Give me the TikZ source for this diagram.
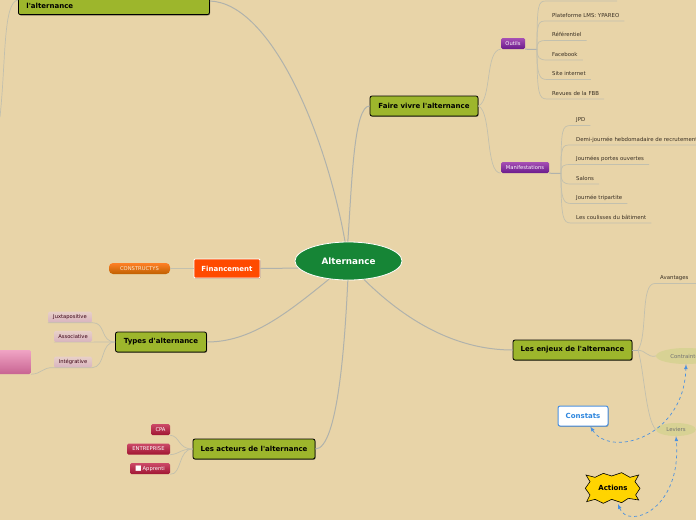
\documentclass[tikz,border=0pt]{standalone}
\usepackage{fontspec}
\setmainfont{DejaVu Sans}
\usetikzlibrary{arrows,positioning,shadows,shapes.geometric}
\definecolor{Paper}{HTML}{E8D4A8}
\definecolor{Olive}{HTML}{9DB62C}
\definecolor{Forest}{HTML}{168536}
\definecolor{Flame}{HTML}{FF4A00}
\definecolor{Branch}{HTML}{C2C0AE}
\definecolor{BranchDark}{HTML}{B0B2AC}
\definecolor{LeafText}{HTML}{3A3024}
\definecolor{Link}{HTML}{4A90E0}
\definecolor{LinkText}{HTML}{2E86DE}
\definecolor{Pale}{HTML}{D8D294}
\definecolor{PurpleTop}{HTML}{A650B4}
\definecolor{PurpleLow}{HTML}{6A1A8C}
\definecolor{RedTop}{HTML}{CC4A68}
\definecolor{RedLow}{HTML}{A01632}
\definecolor{RoseTop}{HTML}{F0A4C4}
\definecolor{RoseLow}{HTML}{C86492}
\definecolor{MauveTop}{HTML}{E8D0C8}
\definecolor{MauveLow}{HTML}{D8B4C0}
\definecolor{Gold}{HTML}{FFD400}

\begin{document}
\begin{tikzpicture}[
  x=1pt, y=-1pt,
  mainbox/.style={draw=black, line width=0.8pt, rounded corners=2pt, fill=Olive,
                  font=\fontsize{7}{9}\selectfont\bfseries, text=black, align=center,
                  drop shadow={shadow xshift=0.6pt, shadow yshift=-0.8pt, opacity=0.45, fill=black}},
  leaf/.style={font=\fontsize{5.4}{6}\selectfont, text=LeafText, inner xsep=5pt, inner ysep=0.8pt,
               text height=4.5pt, text depth=3pt},
  tag/.style={rounded corners=1.5pt, font=\fontsize{5.2}{6}\selectfont, text=white, inner sep=0pt,
              minimum height=11pt},
  purpletag/.style={tag, top color=PurpleTop, bottom color=PurpleLow},
  redtag/.style={tag, top color=RedTop, bottom color=RedLow},
  mauvetag/.style={tag, top color=MauveTop, bottom color=MauveLow, text=black!70!purple},
  pale/.style={ellipse, fill=Pale, inner sep=0pt, font=\fontsize{5.4}{6}\selectfont, text=black!55},
  branch/.style={draw=Branch, line width=0.7pt},
  trunk/.style={draw=BranchDark, line width=1pt},
  link/.style={draw=Link, line width=0.7pt, dashed, <->, >=latex},
  node distance=10pt
]
  \useasboundingbox (0,0) rectangle (696,520);
  \clip (0,0) rectangle (696,520);
  \fill[Paper] (0,0) rectangle (696,520);

  % centre and main topics
  \node[ellipse, draw=white, line width=0.8pt, fill=Forest, text=white, minimum width=107pt, minimum height=38pt,
        font=\fontsize{8.8}{10}\selectfont\bfseries] (centre) at (348.5,261) {Alternance};
  \node[mainbox, minimum width=191pt, text width=185pt, inner xsep=3pt, inner ysep=6pt, align=left, anchor=south west]
    (haut) at (18,15) {\mbox{}\\[2pt]\hspace*{5pt}l\textquotesingle alternance};
  \node[mainbox, minimum width=108pt, minimum height=20pt] (faire) at (424,106) {Faire vivre l\textquotesingle alternance};
  \node[mainbox, minimum width=119pt, minimum height=20pt] (enjeux) at (572.5,350) {Les enjeux de l\textquotesingle alternance};
  \node[mainbox, minimum width=91pt, minimum height=20pt] (types) at (161,342) {Types d\textquotesingle alternance};
  \node[mainbox, minimum width=122pt, minimum height=20pt] (acteurs) at (254,449) {Les acteurs de l\textquotesingle alternance};
  \node[draw=white, line width=0.8pt, rounded corners=1pt, fill=Flame, text=white, minimum width=66pt, minimum height=19pt,
        font=\fontsize{7}{9}\selectfont\bfseries,
        drop shadow={shadow xshift=0.5pt, shadow yshift=-0.6pt, opacity=0.3, fill=black}] (financement) at (227,268.5) {Financement};

  % small tags
  \node[tag, rounded corners=4pt, minimum width=61pt, top color=Flame!40!orange!85!white, bottom color=orange!75!black,
        text=white!85!orange] (constructys) at (139.5,268.5) {CONSTRUCTYS};
  \node[purpletag, minimum width=24pt] (outils) at (513,43.5) {Outils};
  \node[purpletag, minimum width=48pt] (manif) at (525,167.5) {Manifestations};
  \node[mauvetag, minimum width=44pt] (juxta) at (70,317) {Juxtapositive};
  \node[mauvetag, minimum width=38pt, below=8pt of juxta.south east, anchor=north east] (assoc) {Associative};
  \node[mauvetag, minimum width=38pt] (integ) at (73,362) {Intégrative};
  \node[tag, minimum width=40pt, minimum height=24pt, top color=RoseTop, bottom color=RoseLow, anchor=east] (rose) at (31,362) {};
  \node[redtag, minimum width=19pt] (cpa) at (160.5,429.5) {CPA};
  \node[redtag, minimum width=43pt] (entreprise) at (148.5,449) {ENTREPRISE};
  \node[redtag, minimum width=40pt] (apprenti) at (150,468.5) {{\fontsize{7}{7}\selectfont ■}\,Apprenti};

  % leaves of the first tag
  \coordinate (hubo) at (537,49.5);
  \coordinate (cachea) at (546,1);
  \coordinate (cacheb) at (617,1);
  \node[leaf, anchor=north west] (plateforme) at (547,11.5) {Plateforme LMS: YPAREO};
  \node[leaf, below=of plateforme.south west, anchor=north west] (referentiel) {Référentiel};
  \node[leaf, below=of referentiel.south west, anchor=north west] (facebook) {Facebook};
  \node[leaf, below=of facebook.south west, anchor=north west] (site) {Site internet};
  \node[leaf, below=of site.south west, anchor=north west] (revues) {Revues de la FBB};

  % leaves of the second tag
  \coordinate (hubm) at (561,173.5);
  \node[leaf, anchor=north west] (jpd) at (571,116) {JPD};
  \node[leaf, below=of jpd.south west, anchor=north west] (demi) {Demi-journée hebdomadaire de recrutement};
  \node[leaf, below=of demi.south west, anchor=north west] (portes) {Journées portes ouvertes};
  \node[leaf, below=of portes.south west, anchor=north west] (salons) {Salons};
  \node[leaf, below=of salons.south west, anchor=north west] (tripartite) {Journée tripartite};
  \node[leaf, below=of tripartite.south west, anchor=north west] (coulisses) {Les coulisses du bâtiment};

  % right hand side
  \coordinate (hube) at (638,350);
  \node[leaf, anchor=south west] (avantages) at (655,283.5) {Avantages\hspace*{26pt}};
  \node[pale, minimum width=60pt, minimum height=16pt] (contraintes) at (686,356) {Contraintes};
  \node[pale, minimum width=40pt, minimum height=13pt] (leviers) at (676,429.5) {Leviers};
  \node[draw=Link, line width=1pt, rounded corners=2pt, fill=white, text=LinkText, minimum width=50pt, minimum height=20pt,
        font=\fontsize{7}{8}\selectfont\bfseries,
        drop shadow={shadow xshift=0.5pt, shadow yshift=-0.8pt, opacity=0.3, fill=black}] (constats) at (583,416) {Constats};
  \begin{scope}[shift={(540,390)}, x=0.3333pt, y=-0.3333pt]
    \draw[black, line width=0.6pt, fill=Gold, line join=miter]
      (138,255) -- (165,262) -- (190,250) -- (215,258) -- (245,248) -- (270,262) -- (296,255)
      -- (285,275) -- (300,295) -- (287,315) -- (296,330)
      -- (265,325) -- (245,338) -- (215,328) -- (190,340) -- (165,328) -- (140,335)
      -- (150,315) -- (136,295) -- (150,275) -- cycle;
  \end{scope}
  \node[inner sep=1pt, font=\fontsize{7}{8}\selectfont\bfseries] (actions) at (613,487.5) {Actions};
  \coordinate (actionsbas) at (618,504);

  % connectors from the centre
  \draw[trunk] (centre.100) .. controls (325,130) and (270,3) .. (haut.north east |- 0,1);
  \draw[trunk] (centre.92) .. controls (352,180) and (354,106) .. (faire.west);
  \draw[trunk] (centre.188) -- (financement.east);
  \draw[trunk] (centre.223) .. controls (285,315) and (250,342) .. (types.east);
  \draw[trunk] (centre.268) .. controls (345,340) and (338,449) .. (acteurs.east);
  \draw[trunk] (centre.310) .. controls (410,325) and (460,350) .. (enjeux.west);
  \coordinate (horsbord) at (0,117);
  \coordinate (hautgauche) at (18,0);
  \draw[branch] (horsbord) .. controls (6,60) and (3,2) .. (hautgauche);

  % second level
  \draw[branch] (faire.east) .. controls (492,100) and (485,50) .. (outils.south west);
  \draw[branch] (faire.east) .. controls (492,112) and (485,173) .. (manif.south west);
  \draw[trunk] (outils.south east) -- (hubo);
  \draw[trunk] (manif.south east) -- (hubm);
  \draw[branch] (hubo) .. controls +(0,-45) and +(-8,0) .. (cachea) -- (cacheb);
  \draw[branch] (hubo) .. controls +(0,-28) and +(-9,0) .. (plateforme.south west) -- (plateforme.south east);
  \draw[branch] (hubo) .. controls +(0,-8) and +(-8,0) .. (referentiel.south west) -- (referentiel.south east);
  \draw[branch] (hubo) .. controls +(0,8) and +(-8,0) .. (facebook.south west) -- (facebook.south east);
  \draw[branch] (hubo) .. controls +(0,25) and +(-8,0) .. (site.south west) -- (site.south east);
  \draw[branch] (hubo) .. controls +(0,45) and +(-8,0) .. (revues.south west) -- (revues.south east);
  \draw[branch] (hubm) .. controls +(0,-45) and +(-9,0) .. (jpd.south west) -- (jpd.south east);
  \draw[branch] (hubm) .. controls +(0,-28) and +(-9,0) .. (demi.south west) -- (demi.south east);
  \draw[branch] (hubm) .. controls +(0,-8) and +(-8,0) .. (portes.south west) -- (portes.south east);
  \draw[branch] (hubm) .. controls +(0,8) and +(-8,0) .. (salons.south west) -- (salons.south east);
  \draw[branch] (hubm) .. controls +(0,25) and +(-8,0) .. (tripartite.south west) -- (tripartite.south east);
  \draw[branch] (hubm) .. controls +(0,45) and +(-8,0) .. (coulisses.south west) -- (coulisses.south east);

  \draw[branch] (financement.west) -- (constructys.east);
  \draw[branch] (juxta.south west) -- (juxta.south east) .. controls (106,322) and (100,342) .. (types.west);
  \draw[branch] (assoc.south west) -- (assoc.south east) -- (types.west);
  \draw[branch] (integ.south east) .. controls (106,367) and (100,342) .. (types.west);
  \draw[branch] (integ.south east) -- (integ.south west) .. controls (42,367) and (42,374) .. (rose.south east);
  \draw[branch] (cpa.south east) .. controls (180,436) and (178,449) .. (acteurs.west);
  \draw[branch] (entreprise.south east) .. controls (180,454) and (180,449) .. (acteurs.west);
  \draw[branch] (apprenti.south east) .. controls (182,475) and (178,449) .. (acteurs.west);

  \draw[trunk] (enjeux.east) -- (hube);
  \draw[branch] (hube) .. controls (648,335) and (640,283) .. (avantages.south west) -- (avantages.south east);
  \draw[branch] (hube) .. controls (645,350) and (648,358) .. (contraintes.west);
  \draw[branch] (hube) .. controls (644,370) and (646,420) .. (leviers.west);

  % dashed links
  \draw[link] (constats.-55) .. controls (610,458) and (684,438) .. (contraintes.south);
  \draw[link] (actionsbas) .. controls (628,530) and (682,510) .. (leviers.south);
\end{tikzpicture}
\end{document}
